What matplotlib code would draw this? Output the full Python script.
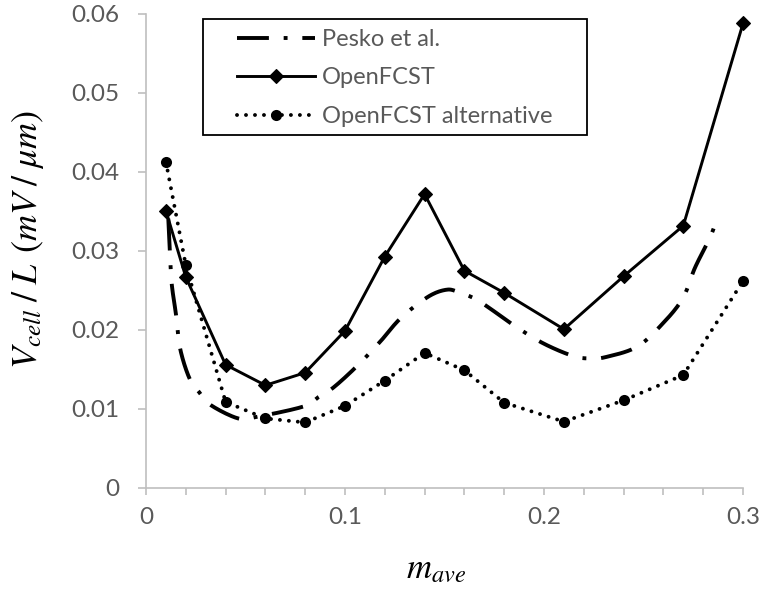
import numpy as np
import matplotlib
matplotlib.use("Agg")
import matplotlib.pyplot as plt
from matplotlib.lines import Line2D
from matplotlib.patches import Rectangle

# ---- data -------------------------------------------------------------
m_ave = [0.01, 0.02, 0.04, 0.06, 0.08, 0.10, 0.12, 0.14, 0.16, 0.18,
         0.21, 0.24, 0.27, 0.30]
openfcst = [0.0351, 0.0267, 0.0156, 0.0130, 0.0146, 0.0199, 0.0293,
            0.0372, 0.0275, 0.0247, 0.0201, 0.0268, 0.0332, 0.0588]
openfcst_alt = [0.0413, 0.0282, 0.0109, 0.0088, 0.0083, 0.0104, 0.0136,
                0.0171, 0.0149, 0.0108, 0.0084, 0.0111, 0.0143, 0.0262]

pesko_x = [0.0112, 0.0120, 0.0129, 0.0151, 0.0171, 0.0218, 0.0268, 0.0325,
           0.0464, 0.0556, 0.0789, 0.0866, 0.0941, 0.1059, 0.1176, 0.1280,
           0.1417, 0.1510, 0.1570, 0.1650, 0.1719, 0.1854, 0.1997, 0.2147,
           0.2235, 0.2315, 0.2469, 0.2596, 0.2697, 0.2759, 0.2834, 0.2864]
pesko_y = [0.0341, 0.0301, 0.0259, 0.0219, 0.0177, 0.0139, 0.0121, 0.0105,
           0.0088, 0.0090, 0.0103, 0.0115, 0.0127, 0.0154, 0.0185, 0.0215,
           0.0242, 0.0251, 0.0248, 0.0240, 0.0229, 0.0205, 0.0183, 0.0167,
           0.0164, 0.0166, 0.0179, 0.0208, 0.0240, 0.0279, 0.0317, 0.0337]

series_labels = ["Pesko et al.", "OpenFCST", "OpenFCST alternative"]
x_ticks = [0, 0.1, 0.2, 0.3]
x_tick_labels = ["0", "0.1", "0.2", "0.3"]
y_ticks = [0, 0.01, 0.02, 0.03, 0.04, 0.05, 0.06]
y_tick_labels = ["0", "0.01", "0.02", "0.03", "0.04", "0.05", "0.06"]


def smooth(xs, ys, n=16):
    """Catmull-Rom smoothing through the given points."""
    p = np.column_stack([xs, ys]).astype(float)
    p = np.vstack([p[0] - (p[1] - p[0]), p, p[-1] + (p[-1] - p[-2])])
    out = []
    t = np.linspace(0, 1, n, endpoint=False)[:, None]
    for i in range(1, len(p) - 2):
        p0, p1, p2, p3 = p[i - 1], p[i], p[i + 1], p[i + 2]
        seg = 0.5 * ((2 * p1) + (-p0 + p2) * t
                     + (2 * p0 - 5 * p1 + 4 * p2 - p3) * t ** 2
                     + (-p0 + 3 * p1 - 3 * p2 + p3) * t ** 3)
        out.append(seg)
    out.append(p[-2][None, :])
    out = np.vstack(out)
    return out[:, 0], out[:, 1]


# ---- figure -----------------------------------------------------------
plt.rcParams["font.family"] = ["Lato", "DejaVu Sans"]
plt.rcParams["mathtext.fontset"] = "stix"

W, H = 762, 590
fig = plt.figure(figsize=(W / 100, H / 100), dpi=100)
ax = fig.add_axes([146 / W, 1 - 488 / H, (743 - 146) / W, (488 - 14) / H])

grey = "#BFBFBF"
txt = "#595959"

pesko_dash = (0, (8.2, 3.8, 1.0, 3.8))
dot_style = (0, (0.01, 2.3))

sx, sy = smooth(pesko_x, pesko_y)
ax.plot(sx, sy, color="black", lw=2.8, linestyle=pesko_dash,
        dash_capstyle="butt", solid_capstyle="butt", clip_on=False)
ax.plot(m_ave, openfcst, color="black", lw=2.1, marker="D", ms=7,
        mew=0.8, clip_on=False)
ax.plot(m_ave, openfcst_alt, color="black", lw=2.8, linestyle=dot_style,
        dash_capstyle="round", marker="o", ms=8, mew=0, clip_on=False)

ax.set_xlim(0, 0.3)
ax.set_ylim(0, 0.06)
ax.set_xticks(x_ticks)
ax.set_xticklabels(x_tick_labels)
ax.set_xticks(np.arange(0, 0.3001, 0.02), minor=True)
ax.set_yticks(y_ticks)
ax.set_yticklabels(y_tick_labels)

for side in ("top", "right"):
    ax.spines[side].set_visible(False)
for side in ("left", "bottom"):
    ax.spines[side].set_color(grey)
    ax.spines[side].set_linewidth(1.2)

ax.tick_params(axis="x", which="both", direction="out", length=5,
               width=1.2, color=grey, labelsize=17.5, labelcolor=txt, pad=9)
ax.tick_params(axis="y", which="both", direction="out", length=6,
               width=1.2, color=grey, labelsize=17.5, labelcolor=txt, pad=13)

fig.text(28 / W, 1 - 240 / H, r"$V_{cell}\;/\;L\;\,(mV\;/\;\mu m)$",
         rotation=90, ha="center", va="center", fontsize=26, color="black")
fig.text(436 / W, 1 - 569 / H, r"$m_{ave}$",
         ha="center", va="center", fontsize=25, color="black")

# legend frame and entries
fig.patches.append(Rectangle((203 / W, 1 - 135 / H), (587 - 203) / W,
                             (135 - 19) / H, transform=fig.transFigure,
                             fill=False, edgecolor="black", lw=1.3))
handles = [
    Line2D([], [], color="black", lw=2.8, linestyle=pesko_dash,
           dash_capstyle="butt"),
    Line2D([], [], color="black", lw=2.1, marker="D", ms=7, mew=0.8),
    Line2D([], [], color="black", lw=2.8, linestyle=dot_style,
           dash_capstyle="round", marker="o", ms=8, mew=0),
]
leg = fig.legend(handles, series_labels, loc="upper left",
                 bbox_to_anchor=(237 / W, 1 - 29 / H),
                 bbox_transform=fig.transFigure, frameon=False,
                 fontsize=17, handlelength=3.3, handletextpad=0.3,
                 labelspacing=0.74, borderpad=0, borderaxespad=0,
                 numpoints=1)
for t in leg.get_texts():
    t.set_color(txt)

fig.savefig("out.png", dpi=100)
